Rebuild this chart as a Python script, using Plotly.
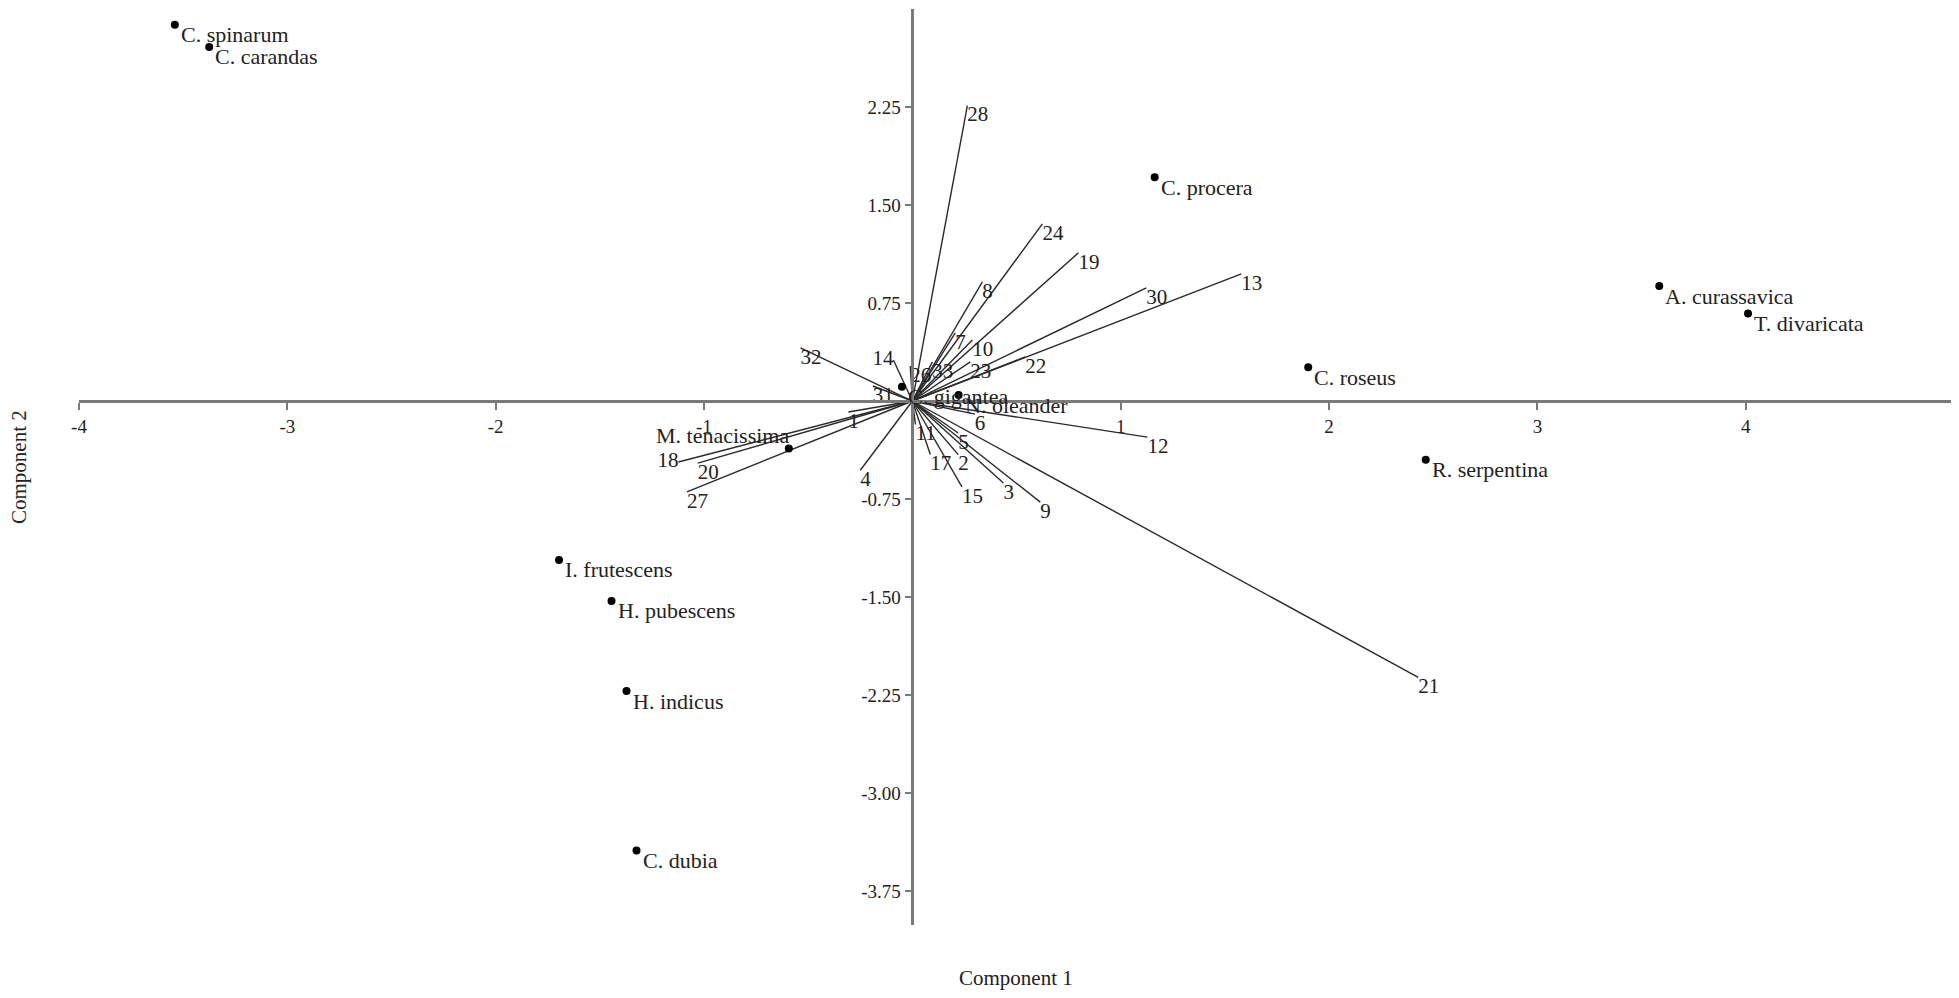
import plotly.graph_objects as go

# species scores (Component 1, Component 2)
species = ["C. spinarum", "C. carandas", "C. procera", "A. curassavica", "T. divaricata",
           "C. roseus", "R. serpentina", "M. tenacissima", "I. frutescens", "H. pubescens",
           "H. indicus", "C. dubia", "C. gigantea", "N. oleander"]
sp_x = [-3.54, -3.375, 1.163, 3.585, 4.011, 1.90, 2.464, -0.593, -1.696, -1.444,
        -1.372, -1.324, -0.05, 0.222]
sp_y = [2.88, 2.71, 1.713, 0.88, 0.67, 0.258, -0.45, -0.363, -1.216, -1.53,
        -2.22, -3.44, 0.11, 0.046]

# variable loadings
variables = ["1", "2", "3", "4", "5", "6", "7", "8", "9", "10", "11", "12", "13", "14", "15",
             "17", "18", "19", "20", "21", "22", "23", "24", "26", "27", "28", "30", "31",
             "32", "33"]
var_x = [-0.307, 0.22, 0.437, -0.25, 0.22, 0.30, 0.206, 0.336, 0.614, 0.288, 0.015, 1.128,
         1.579, -0.091, 0.238, 0.086, -1.123, 0.797, -1.03, 2.428, 0.542, 0.278, 0.624,
         -0.01, -1.082, 0.264, 1.123, -0.19, -0.537, 0.096]
var_y = [-0.084, -0.41, -0.628, -0.53, -0.245, -0.10, 0.521, 0.912, -0.774, 0.467, -0.18,
         -0.276, 0.973, 0.314, -0.657, -0.41, -0.467, 1.134, -0.475, -2.115, 0.337, 0.299,
         1.356, 0.268, -0.695, 2.26, 0.866, 0.115, 0.406, 0.299]

xticks = [-4, -3, -2, -1, 1, 2, 3, 4]
yticks = [2.25, 1.5, 0.75, -0.75, -1.5, -2.25, -3.0, -3.75]

FONT = "Liberation Serif"
left_labels = {"14", "18"}

# vectors from the origin
lx, ly = [], []
for vx, vy in zip(var_x, var_y):
    lx += [0, vx, None]
    ly += [0, vy, None]

fig = go.Figure()
fig.add_trace(go.Scatter(x=lx, y=ly, mode="lines",
                         line=dict(color="#2a2a2a", width=1.4),
                         hoverinfo="skip", showlegend=False))
fig.add_trace(go.Scatter(
    x=var_x, y=var_y, mode="text", text=variables,
    textposition=["middle left" if v in left_labels else "bottom right" for v in variables],
    textfont=dict(family=FONT, size=21, color="#222"),
    showlegend=False))
fig.add_trace(go.Scatter(
    x=sp_x, y=sp_y, mode="markers", marker=dict(color="black", size=8),
    text=species, hoverinfo="text", showlegend=False))

# species labels just right of and slightly below each dot
annotations = []
for name, x, y in zip(species, sp_x, sp_y):
    if name == "M. tenacissima":
        pos = dict(xanchor="right", xshift=2, yshift=13)
    else:
        pos = dict(xanchor="left", xshift=4, yshift=-10)
    annotations.append(dict(text=name, x=x, y=y, showarrow=False, yanchor="middle",
                            font=dict(family=FONT, size=22, color="#222"), **pos))

annotations += [
    dict(text="Component 1", x=0.5, y=0, xref="paper", yref="paper", yshift=-53,
         yanchor="middle", showarrow=False, font=dict(family=FONT, size=21, color="#222")),
    dict(text="Component 2", x=0, y=0.5, xref="paper", yref="paper", xshift=-60,
         xanchor="center", showarrow=False, textangle=-90,
         font=dict(family=FONT, size=21, color="#222")),
]

axis_style = dict(showgrid=False, zeroline=False, showline=True, linecolor="#7a7a7a",
                  linewidth=2.5, ticks="outside", ticklen=7, tickwidth=1.5,
                  tickcolor="#7a7a7a", tickfont=dict(family=FONT, size=19, color="#222"),
                  anchor="free")

# page body adds 8px around the figure
fig.update_layout(
    width=1959, height=998,
    plot_bgcolor="white", paper_bgcolor="white",
    margin=dict(l=71, r=15, t=1, b=81),
    xaxis=dict(range=[-4.0, 4.99], tickvals=xticks, ticktext=[str(t) for t in xticks],
               position=4.01 / 7.01, **axis_style),
    yaxis=dict(range=[-4.01, 3.0], tickvals=yticks, ticktext=[f"{t:.2f}" for t in yticks],
               position=4.0 / 8.99, **axis_style),
    annotations=annotations,
)

fig.write_html("out.html")
